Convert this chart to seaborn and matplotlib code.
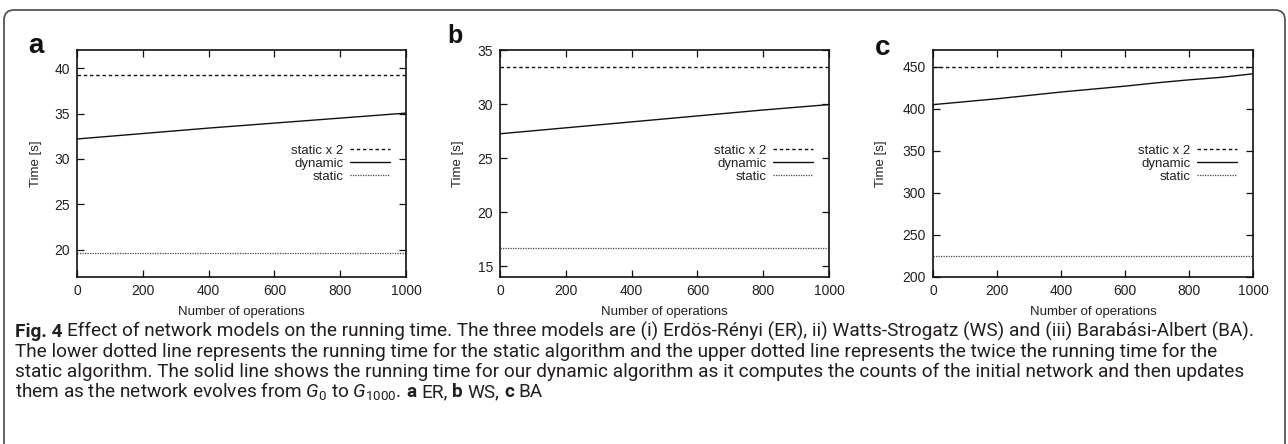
import numpy as np
import pandas as pd
import matplotlib
matplotlib.use("Agg")
import matplotlib.pyplot as plt
import seaborn as sns
from matplotlib import font_manager
from matplotlib.patches import FancyBboxPatch
from matplotlib.transforms import IdentityTransform

# ---------------- data ----------------
ops = [0, 200, 400, 600, 800, 1000]
ops_c = [0, 100, 200, 300, 400, 500, 600, 700, 800, 900, 1000]

er_static = 19.6
er_static2 = 39.2
er_dynamic = [32.2, 32.8, 33.4, 33.95, 34.5, 35.05]

ws_static = 16.7
ws_static2 = 33.4
ws_dynamic = [27.25, 27.8, 28.35, 28.9, 29.45, 29.95]

ba_static = 224.5
ba_static2 = 450.0
ba_dynamic = [405, 408.5, 412, 416, 420, 423.5, 427, 431, 434.5, 437.5, 441.7]

panel_letters = ["a", "b", "c"]
series_labels = ["static x 2", "dynamic", "static"]
x_ticks = [0, 200, 400, 600, 800, 1000]
y_ticks = [[20, 25, 30, 35, 40], [15, 20, 25, 30, 35], [200, 250, 300, 350, 400, 450]]
y_lims = [(17, 42), (14, 35), (200, 470)]

# caption lines as (text, bold) segments; segments are joined by one space
caption_lines = [
    [("Fig. 4", True), ("Effect of network models on the running time. The three models are (i) Erdös-Rényi (ER), ii) Watts-Strogatz (WS) and (iii) Barabási-Albert (BA).", False)],
    [("The lower dotted line represents the running time for the static algorithm and the upper dotted line represents the twice the running time for the", False)],
    [("static algorithm. The solid line shows the running time for our dynamic algorithm as it computes the counts of the initial network and then updates", False)],
    [(r"them as the network evolves from $G_0$ to $G_{1000}$.", False), ("a", True), ("ER,", False),
     ("b", True), ("WS,", False), ("c", True), ("BA", False)],
]

# ---------------- style ----------------
sns.set_style("ticks")
plt.rcParams["font.family"] = ["Liberation Sans", "DejaVu Sans"]


def pick_font(cands):
    for c in cands:
        try:
            font_manager.findfont(c, fallback_to_default=False)
            return c
        except Exception:
            pass
    return "DejaVu Sans"


cap_font = pick_font(["Liberation Sans Narrow", "Roboto", "Open Sans"])
plt.rcParams["mathtext.fontset"] = "custom"
plt.rcParams["mathtext.rm"] = cap_font
plt.rcParams["mathtext.it"] = cap_font + ":italic"
plt.rcParams["mathtext.bf"] = cap_font + ":bold"

W, H = 1288, 444
fig = plt.figure(figsize=(W / 100, H / 100), dpi=100)

# axes positions in pixels: (left, right, top, bottom)
boxes = [(77, 406, 50, 277), (500, 829, 50, 277), (933, 1253, 50, 277)]
ylabel_x = [-0.107, -0.110, -0.144]
letter_pos = [(28, 53), (447, 43), (875, 55)]
letter_size = [20, 18, 20]

datasets = [
    (ops, er_dynamic, er_static, er_static2),
    (ops, ws_dynamic, ws_static, ws_static2),
    (ops_c, ba_dynamic, ba_static, ba_static2),
]

txt_col = "#222222"
for i, (l, r, t, b) in enumerate(boxes):
    ax = fig.add_axes([l / W, 1 - b / H, (r - l) / W, (b - t) / H])
    xs, dyn, st, st2 = datasets[i]
    sns.lineplot(x=[0, 1000], y=[st2, st2], ax=ax, color="#111111", lw=1.0,
                 label=series_labels[0], linestyle=(0, (2.5, 2)))
    sns.lineplot(x=xs, y=dyn, ax=ax, color="#111111", lw=1.0, label=series_labels[1])
    sns.lineplot(x=[0, 1000], y=[st, st], ax=ax, color="#444444", lw=0.9,
                 label=series_labels[2], linestyle=(0, (1, 1)))
    ax.set_xlim(0, 1000)
    ax.set_ylim(*y_lims[i])
    ax.set_xticks(x_ticks)
    ax.set_yticks(y_ticks[i])
    ax.tick_params(direction="in", top=True, right=True, length=5, width=0.9,
                   labelsize=10, colors="#111111", labelcolor=txt_col, pad=5)
    for s in ax.spines.values():
        s.set_linewidth(1.2)
        s.set_color("#111111")
    ax.set_xlabel("Number of operations", fontsize=9.5, color=txt_col, labelpad=6)
    ax.set_ylabel("Time [s]", fontsize=9.5, color=txt_col)
    ax.yaxis.set_label_coords(ylabel_x[i], 0.5)
    leg = ax.legend(loc="center right", bbox_to_anchor=(0.97, 0.5), frameon=False,
                    markerfirst=False, fontsize=9.5, handlelength=3.0, handletextpad=0.5,
                    labelspacing=0.05, borderpad=0)
    for tx in leg.get_texts():
        tx.set_color(txt_col)
        tx.set_ha("right")
    lx, ly = letter_pos[i]
    fig.text(lx / W, 1 - ly / H, panel_letters[i], fontsize=letter_size[i], fontweight="bold",
             ha="left", va="baseline", color="#111111")

# rounded frame, open at the bottom
frame = FancyBboxPatch((4, -30), 1281, H - 10 + 30,
                       boxstyle="round,pad=0,rounding_size=10",
                       transform=IdentityTransform(), fill=False,
                       ec="#555555", lw=1.3)
fig.patches.append(frame)

# ---------------- caption ----------------
fig.canvas.draw()
renderer = fig.canvas.get_renderer()


def measure(s, fs, bold):
    t = fig.text(0, 0, s, fontsize=fs, family=cap_font,
                 fontweight="bold" if bold else "normal")
    w = t.get_window_extent(renderer).width
    t.remove()
    return w


def line_width(segs, fs):
    sp = measure("x x", fs, False) - measure("xx", fs, False)
    return sum(measure(s, fs, bd) for s, bd in segs) + sp * (len(segs) - 1)


base = 12.0
fs = base * 1238 / line_width(caption_lines[0], base)
space = measure("x x", fs, False) - measure("xx", fs, False)
baselines = [337, 357, 377, 397]
for segs, yb in zip(caption_lines, baselines):
    x = 15.0
    for s, bd in segs:
        t = fig.text(x / W, 1 - yb / H, s, fontsize=fs, family=cap_font,
                     fontweight="bold" if bd else "normal",
                     color="#231f20", ha="left", va="baseline")
        x += t.get_window_extent(renderer).width + space

fig.savefig("out.png", dpi=100)
